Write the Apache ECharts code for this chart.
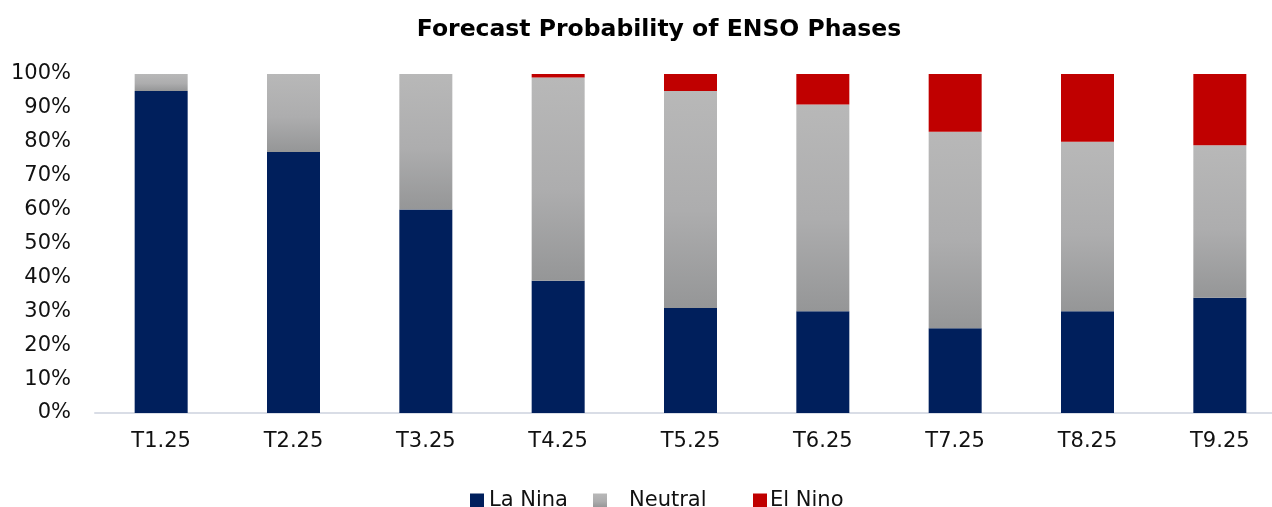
<!DOCTYPE html>
<html>
<head>
<meta charset="utf-8">
<script src="https://cdn.jsdelivr.net/npm/echarts@6/dist/echarts.min.js"></script>
<style>
  html, body { margin: 0; padding: 0; background: #fff; overflow: hidden; }
  #chart { width: 1286px; height: 507px; }
</style>
</head>
<body>
<div id="chart"></div>
<script>
// ENSO phase forecast probabilities (%), per season
const categories = ['T1.25', 'T2.25', 'T3.25', 'T4.25', 'T5.25', 'T6.25', 'T7.25', 'T8.25', 'T9.25'];
const laNina  = [95, 77, 60, 39, 31, 30, 25, 30, 34];
const neutral = [5, 23, 40, 60, 64, 61, 58, 50, 45];
const elNino  = [0, 0, 0, 1, 5, 9, 17, 20, 21];
const yTicks = [0, 10, 20, 30, 40, 50, 60, 70, 80, 90, 100];

const font = 'DejaVu Sans';
const neutralFill = new echarts.graphic.LinearGradient(0, 0, 0, 1, [
  { offset: 0, color: '#b8b8b8' },
  { offset: 0.55, color: '#adadae' },
  { offset: 1, color: '#959697' }
]);

// one legend block per phase so each entry can sit at its own spot
function legendEntry(name, left, textPad) {
  return {
    data: [name], left: left, top: 485,
    icon: 'rect', itemWidth: 14, itemHeight: 14,
    textStyle: { fontFamily: font, fontSize: 21, color: '#111', padding: [0, 0, 0, textPad] }
  };
}

const chart = echarts.init(document.getElementById('chart'), null, { renderer: 'canvas' });
chart.setOption({
  animation: false,
  backgroundColor: '#ffffff',
  title: {
    text: 'Forecast Probability of ENSO Phases',
    left: 654, top: 13, textAlign: 'center',
    textStyle: { fontFamily: font, fontWeight: 'bold', fontSize: 23.5, color: '#000' }
  },
  legend: [
    legendEntry('La Nina', 465, 0),
    legendEntry('Neutral', 588, 17),
    legendEntry('El Nino', 748, -2)
  ],
  grid: { left: 95, top: 74, right: 0, bottom: 94, containLabel: false },
  xAxis: {
    type: 'category',
    data: categories,
    axisLine: { lineStyle: { color: '#d9dde6', width: 2 } },
    axisTick: { show: false },
    axisLabel: { fontFamily: font, fontSize: 21, color: '#111', margin: 18 }
  },
  yAxis: {
    type: 'value',
    min: yTicks[0], max: yTicks[yTicks.length - 1], interval: 10,
    axisLine: { show: false },
    axisTick: { show: false },
    splitLine: { show: false },
    axisLabel: { fontFamily: font, fontSize: 21, color: '#111', margin: 24, formatter: v => v + '%' }
  },
  series: [
    { name: 'La Nina', type: 'bar', stack: 'enso', barWidth: 53, data: laNina, itemStyle: { color: '#001f5c' } },
    { name: 'Neutral', type: 'bar', stack: 'enso', barWidth: 53, data: neutral, itemStyle: { color: neutralFill } },
    { name: 'El Nino', type: 'bar', stack: 'enso', barWidth: 53, data: elNino, itemStyle: { color: '#c00000' } }
  ]
});
</script>
</body>
</html>
